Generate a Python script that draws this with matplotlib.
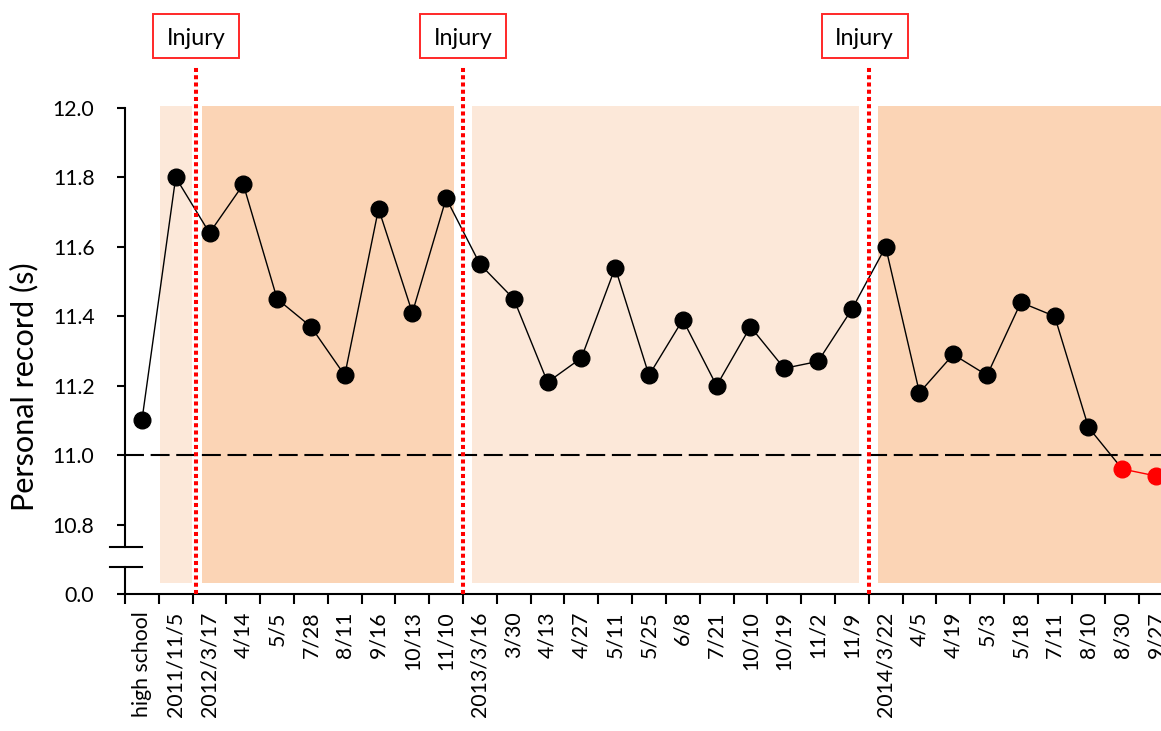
import matplotlib
matplotlib.use("Agg")
import matplotlib.pyplot as plt
from matplotlib.patches import Rectangle

plt.rcParams['font.family'] = ['Lato', 'DejaVu Sans']

# ---------------- data ----------------
dates = ["high school", "2011/11/5", "2012/3/17", "4/14", "5/5", "7/28", "8/11",
         "9/16", "10/13", "11/10", "2013/3/16", "3/30", "4/13", "4/27", "5/11",
         "5/25", "6/8", "7/21", "10/10", "10/19", "11/2", "11/9", "2014/3/22",
         "4/5", "4/19", "5/3", "5/18", "7/11", "8/10", "8/30", "9/27"]
records = [11.10, 11.80, 11.64, 11.78, 11.45, 11.37, 11.23, 11.71, 11.41, 11.74,
           11.55, 11.45, 11.21, 11.28, 11.54, 11.23, 11.39, 11.20, 11.37, 11.25,
           11.27, 11.42, 11.60, 11.18, 11.29, 11.23, 11.44, 11.40, 11.08,
           10.96, 10.94]
n_black = 29            # first 29 points black, rest red
injury_after = [1, 9, 21]   # injury between index i and i+1
ytick_vals = [10.6, 10.8, 11.0, 11.2, 11.4, 11.6, 11.8, 12.0]
ytick_labels = ["0.0", "10.8", "11.0", "11.2", "11.4", "11.6", "11.8", "12.0"]
target = 11.0
ylabel = "Personal record (s)"
box_text = "Injury"

# shaded phases (start, end in category units, colour)
light = "#FCE8D9"
dark = "#FBD4B5"
phases = [(0.54, 1.48, light), (1.78, 9.23, dark), (9.77, 21.22, light), (21.78, 31.0, dark)]

# ---------------- figure ----------------
W, H, DPI = 1161, 731, 100
fig = plt.figure(figsize=(W / DPI, H / DPI), dpi=DPI)
renderer = fig.canvas.get_renderer()


def fit_size(s, target_px, base=15.0):
    t = fig.text(0, 0, s, fontsize=base)
    w = t.get_window_extent(renderer).width
    t.remove()
    return base * target_px / w


FS_XT = fit_size("2013/3/16", 106)
FS_YT = fit_size("12.0", 42)
FS_BOX = fit_size(box_text, 58.7)
FS_LABEL = fit_size(ylabel, 250)

ax = fig.add_axes([125 / W, 1 - 594 / H, (1173 - 125) / W, (594 - 108) / H])
ax.set_xlim(-0.5, len(dates) - 0.5)
ax.set_ylim(10.6, 12.0)

shade_bot, shade_top = 10.631, 12.006
for s, e, c in phases:
    ax.add_patch(Rectangle((s, shade_bot), e - s, shade_top - shade_bot,
                           facecolor=c, edgecolor='none', zorder=0, clip_on=False))

x = list(range(len(dates)))
ax.axhline(target, color='black', lw=1.5, linestyle=(0, (9.1, 3.2)), zorder=2)

ax.plot(x[:n_black + 1], records[:n_black + 1], color='black', lw=1.0, zorder=3)
ax.plot(x[n_black:], records[n_black:], color='red', lw=1.0, zorder=3)
ax.plot(x[:n_black], records[:n_black], 'o', color='black', ms=12, zorder=4)
ax.plot(x[n_black:], records[n_black:], 'o', color='red', ms=12, zorder=4)

# injury lines and boxes
offsets = [0.1, 0.0, 0.0]
box_off = [0.0, 0.0, -0.12]
box_w, box_h = 2.54, 0.127
for i, o, bo in zip(injury_after, offsets, box_off):
    xi = i + 0.5 + o
    ax.plot([xi, xi], [10.6, 12.124], color='red', lw=2.9, linestyle=(0, (1, 0.8)),
            clip_on=False, zorder=5, dash_capstyle='butt')
    xc = xi + bo
    ax.add_patch(Rectangle((xc - box_w / 2, 12.207 - box_h / 2), box_w, box_h,
                           facecolor='white', edgecolor='#FF2828', lw=1.4,
                           clip_on=False, zorder=6))
    ax.text(xc, 12.1816, box_text, ha='center', va='baseline', fontsize=FS_BOX,
            clip_on=False, zorder=7)

# axes styling
for sp in ['top', 'right', 'left']:
    ax.spines[sp].set_visible(False)
ax.spines['bottom'].set_linewidth(1.5)

# broken left spine
brk_lo, brk_hi = 10.677, 10.735
ax.plot([-0.5, -0.5], [10.6, brk_lo], color='black', lw=1.5, clip_on=False, zorder=6)
ax.plot([-0.5, -0.5], [brk_hi, 12.0], color='black', lw=1.5, clip_on=False, zorder=6)
for yb in (brk_lo, brk_hi):
    ax.plot([-0.94, 0.0], [yb, yb], color='black', lw=1.5, clip_on=False, zorder=6)

ax.set_yticks(ytick_vals)
ax.set_yticklabels(ytick_labels)
ax.tick_params(axis='y', direction='out', length=6, width=1.5, labelsize=FS_YT, pad=16)

ax.set_xticks([i - 0.5 for i in range(len(dates) + 1)])
ax.set_xticklabels([])
ax.set_xticks(x, minor=True)
ax.set_xticklabels(dates, minor=True, rotation=90)
ax.tick_params(axis='x', which='major', direction='out', length=7, width=1.5)
ax.tick_params(axis='x', which='minor', length=0, labelsize=FS_XT, pad=12.5)

ax.set_ylabel(ylabel, fontsize=FS_LABEL)
ax.yaxis.set_label_coords((38 - 125) / 1048, (594 - 387) / 486)

fig.savefig("out.png", dpi=DPI)
